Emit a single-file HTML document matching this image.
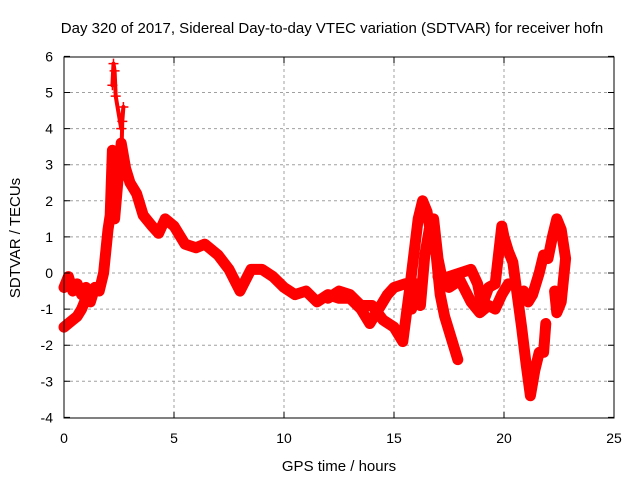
<!DOCTYPE html>
<html><head><meta charset="utf-8"><style>
body{margin:0;background:#fff;}
svg{display:block;font-family:"Liberation Sans",sans-serif;}
</style></head><body>
<svg id="chart" width="640" height="480" viewBox="0 0 640 480">
<rect width="640" height="480" fill="#fff"/>
<text x="332" y="33" font-size="15" text-anchor="middle">Day 320 of 2017, Sidereal Day-to-day VTEC variation (SDTVAR) for receiver hofn</text>
<g id="grid"></g>
<g id="series"></g>
<rect x="64" y="57" width="550" height="361" fill="none" stroke="#000" stroke-width="1"/>
<g id="ticks"></g>
<text x="339" y="471" font-size="15" text-anchor="middle">GPS time / hours</text>
<text x="20" y="238" font-size="15" text-anchor="middle" transform="rotate(-90 20 238)">SDTVAR / TECUs</text>
</svg>
<script>
const xTicks=[0,5,10,15,20,25];
const yTicks=[-4,-3,-2,-1,0,1,2,3,4,5,6];
const traceA_t=[0,0.2,0.4,0.6,0.8,1.0,1.2,1.4,1.6,1.8,2.0,2.1,2.2,2.3,2.6,2.8,3.0,3.3,3.6,4.0,4.3,4.6,5.0,5.5,6.0,6.4,7.0,7.5,8.0,8.5,9.0,9.5,10.0,10.5,11.0,11.5,12.0,12.5,13.0,13.5,13.9,14.3,14.7,15.0,15.5,15.8];
const traceA_v=[-0.4,-0.1,-0.5,-0.3,-0.6,-0.4,-0.8,-0.4,-0.5,0.0,1.2,1.6,3.4,1.5,3.6,2.9,2.5,2.2,1.6,1.3,1.1,1.5,1.3,0.8,0.7,0.8,0.5,0.1,-0.5,0.1,0.1,-0.1,-0.4,-0.6,-0.5,-0.8,-0.6,-0.7,-0.7,-1.0,-1.4,-1.0,-0.6,-0.4,-0.3,-0.4];
const traceB_t=[0,0.2,0.4,0.6,0.8,1.0,1.2];
const traceB_v=[-1.5,-1.4,-1.3,-1.2,-1.0,-0.7,-0.5];
const traceC_t=[2.2,2.25,2.3,2.35,2.6,2.7,2.65,2.6];
const traceC_v=[5.2,5.8,5.6,4.9,4.0,4.6,4.2,3.1];
const traceD_t=[12.0,12.5,13.0,13.5,14.0,14.5,15.0,15.4,15.7,15.9,16.1,16.3,16.5,16.7,16.9,17.1,17.3,17.6,17.9];
const traceD_v=[-0.7,-0.5,-0.6,-0.9,-0.9,-1.3,-1.5,-1.9,-0.5,0.5,1.5,2.0,1.7,1.0,0.6,-0.6,-1.2,-1.8,-2.4];
const traceE_t=[15.8,16.0,16.2,16.4,16.6,16.8,17.0,17.2,17.5,18.0,18.5,18.8,19.0,19.3,19.6,19.9,20.0,20.2,20.4,20.6,20.8,21.0,21.2,21.4,21.6,21.8,21.9];
const traceE_v=[-1.0,-0.3,-0.9,0.5,1.2,1.5,0.4,-0.2,-0.1,0.0,0.1,-0.3,-0.9,-0.4,-0.3,1.3,1.0,0.6,0.3,-0.6,-1.5,-2.5,-3.4,-2.7,-2.2,-2.2,-1.4];
const traceF_t=[17.0,17.5,18.0,18.5,18.9,19.3,19.6,19.9,20.2];
const traceF_v=[-0.1,-0.4,-0.2,-0.8,-1.1,-0.9,-1.0,-0.6,-0.3];
const traceG_t=[20.9,21.1,21.3,21.6,21.8,22.0,22.2,22.4,22.6,22.8,22.6,22.4,22.3];
const traceG_v=[-0.5,-0.8,-0.6,0.0,0.5,0.4,1.0,1.5,1.2,0.4,-0.8,-1.1,-0.5];
const traces=[[traceA_t,traceA_v],[traceB_t,traceB_v],[traceC_t,traceC_v],[traceD_t,traceD_v],[traceE_t,traceE_v],[traceF_t,traceF_v],[traceG_t,traceG_v]];
const NS="http://www.w3.org/2000/svg";
const X=t=>64+t*22, Y=v=>273-v*36.1;
const grid=document.getElementById('grid'),ticks=document.getElementById('ticks'),ser=document.getElementById('series');
function mk(tag,a,p){const e=document.createElementNS(NS,tag);for(const k in a)e.setAttribute(k,a[k]);p.appendChild(e);return e;}
xTicks.forEach(t=>{
 if(t>0&&t<25){const g=mk('line',{x1:X(t),x2:X(t),y1:57,y2:418,stroke:'#a0a0a0','stroke-dasharray':'3,3'},grid);
 
 }
 const tk=mk('path',{d:`M${X(t)},418v-6M${X(t)},57v6`,stroke:'#000'},ticks);
 
 
 const l=mk('text',{x:X(t),y:443,'font-size':14,'text-anchor':'middle'},ticks);l.textContent=t;
 
 
});
yTicks.forEach(v=>{
 if(v>-4&&v<6){const g=mk('line',{x1:64,x2:614,y1:Y(v),y2:Y(v),stroke:'#a0a0a0','stroke-dasharray':'3,3'},grid);
 
 }
 const tk=mk('path',{d:`M64,${Y(v)}h6M614,${Y(v)}h-6`,stroke:'#000'},ticks);
 
 
 const l=mk('text',{x:53,y:Y(v)+5,'font-size':14,'text-anchor':'end'},ticks);l.textContent=v;
 
 
});
traces.forEach(([ts,vs],i)=>{
 const pts=ts.map((t,j)=>X(t)+','+Y(vs[j])).join(' ');
 const pl=mk('polyline',{points:pts,fill:'none',stroke:'#f00','stroke-width':i===2?4:11,'stroke-linejoin':'round','stroke-linecap':'round'},ser);
 
 
 ts.forEach((t,j)=>{
  const m=mk('path',{d:`M${X(t)-5},${Y(vs[j])}h10M${X(t)},${Y(vs[j])-5}v10`,stroke:'#f00','stroke-width':1.5},ser);
  
  
 });
});
</script>
</body></html>
